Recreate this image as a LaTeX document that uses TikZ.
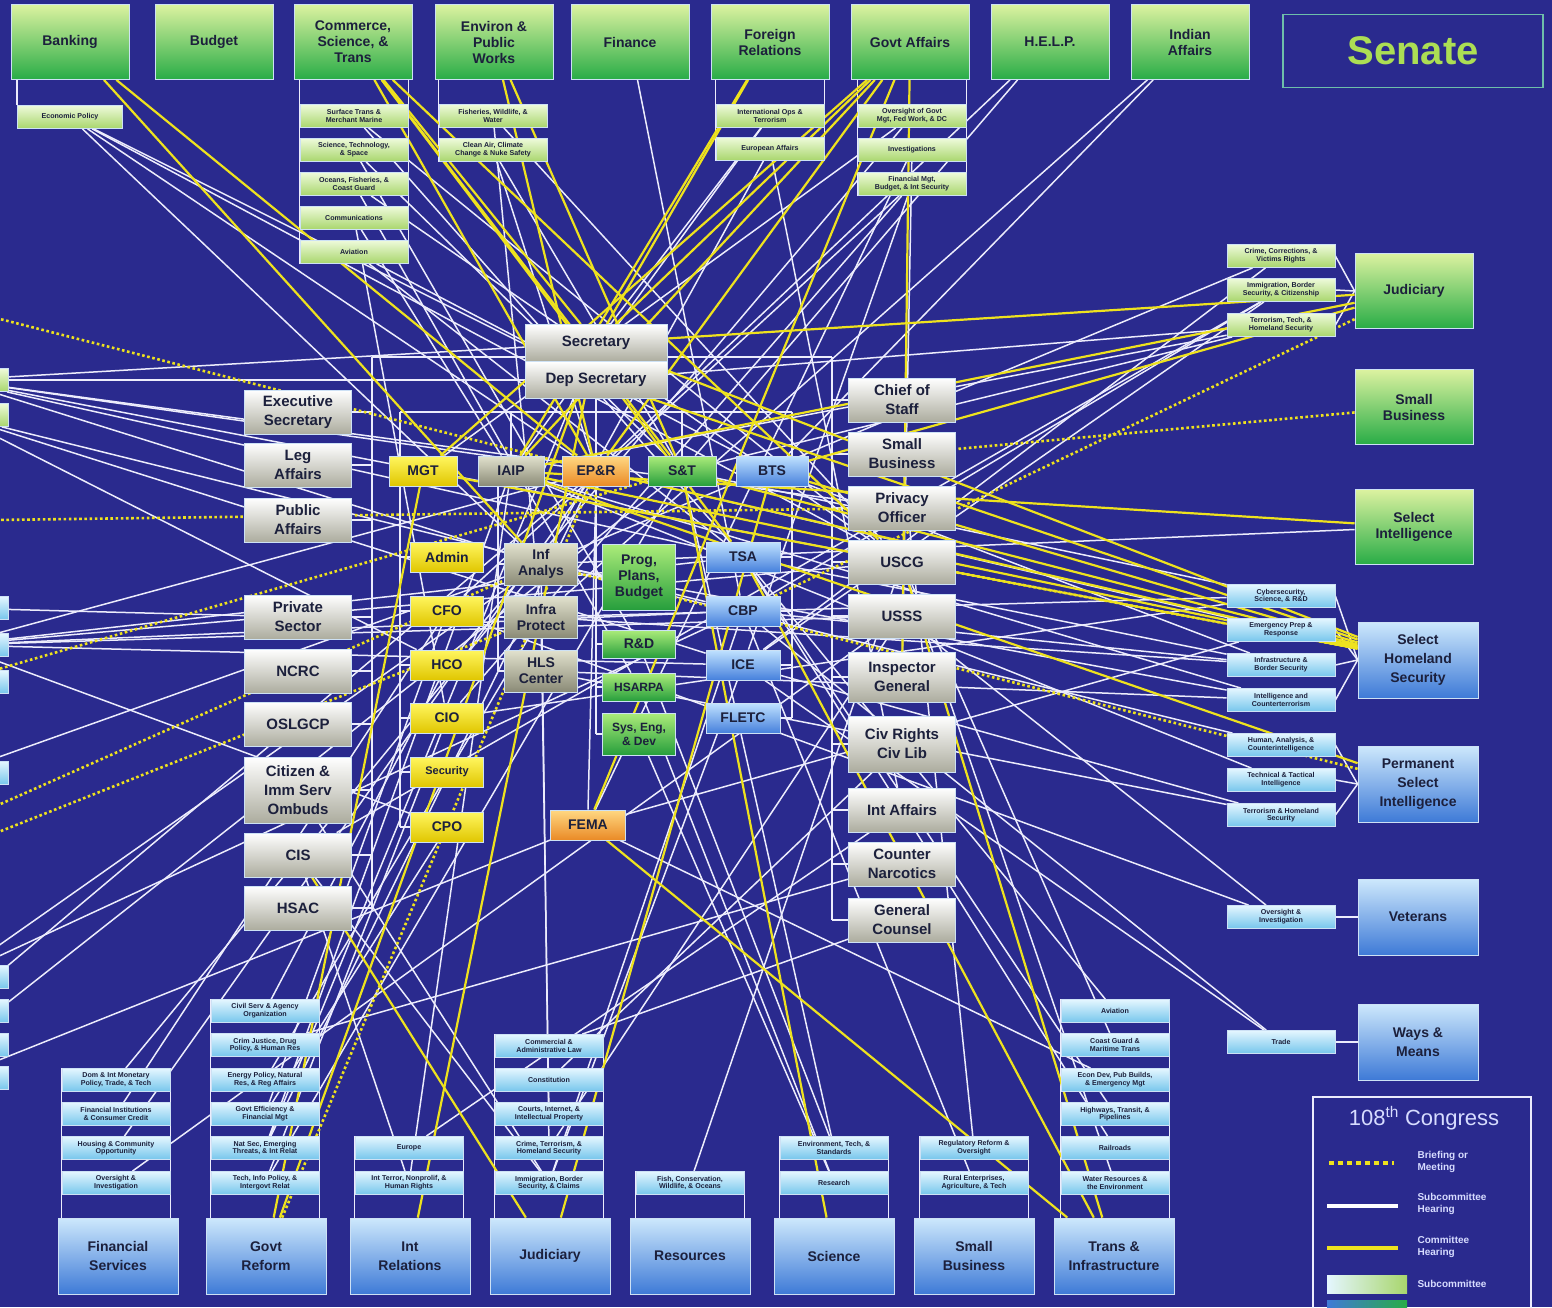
\documentclass[tikz,border=0pt]{standalone}
\usepackage{fontspec}
\setmainfont{Liberation Sans}
\definecolor{navy}{RGB}{42,42,142}
\definecolor{hearwhite}{RGB}{236,236,252}
\definecolor{hearyellow}{RGB}{238,226,30}
\definecolor{boxedge}{RGB}{205,225,245}
\definecolor{boxtext}{RGB}{28,32,60}
\definecolor{sengreenT}{RGB}{220,242,160}
\definecolor{sengreenB}{RGB}{40,172,70}
\definecolor{houseT}{RGB}{205,232,252}
\definecolor{houseB}{RGB}{62,122,215}
\definecolor{subgT}{RGB}{238,250,218}
\definecolor{subgB}{RGB}{168,214,108}
\definecolor{subbT}{RGB}{228,246,255}
\definecolor{subbB}{RGB}{118,198,236}
\definecolor{orgB}{RGB}{172,172,158}
\definecolor{mgtT}{RGB}{255,246,95}
\definecolor{mgtB}{RGB}{224,198,0}
\definecolor{iaipT}{RGB}{226,226,206}
\definecolor{iaipB}{RGB}{138,138,118}
\definecolor{eprT}{RGB}{255,216,130}
\definecolor{eprB}{RGB}{234,138,38}
\definecolor{sntT}{RGB}{172,236,122}
\definecolor{sntB}{RGB}{38,158,60}
\definecolor{btsT}{RGB}{192,226,255}
\definecolor{btsB}{RGB}{70,128,220}
\definecolor{senateedge}{RGB}{110,190,170}
\definecolor{senatetext}{RGB}{172,222,84}
\definecolor{legtext}{RGB}{215,220,255}
\pgfdeclarelayer{back}
\pgfdeclarelayer{lines}
\pgfsetlayers{back,lines,main}
\tikzset{every picture/.style={line width=0.75pt},
  box/.style={rectangle, align=center, inner sep=1pt, draw=boxedge, line width=0.8pt, text=boxtext},
  sencom/.style={box, top color=sengreenT, bottom color=sengreenB, minimum width=118, minimum height=75, font=\bfseries\fontsize{14}{16}\selectfont},
  housecom/.style={box, top color=houseT, bottom color=houseB, minimum width=120, minimum height=76, font=\bfseries\fontsize{14}{19}\selectfont},
  subg/.style={box, top color=subgT, bottom color=subgB, minimum width=108, minimum height=23, font=\bfseries\fontsize{7.1}{7.7}\selectfont},
  subb/.style={box, top color=subbT, bottom color=subbB, minimum width=108, minimum height=23, font=\bfseries\fontsize{7.1}{7.7}\selectfont},
  org/.style={box, top color=white, bottom color=orgB, minimum width=107, minimum height=44, font=\bfseries\fontsize{15}{19}\selectfont},
  dirbox/.style={box, minimum height=30, font=\bfseries\fontsize{14}{16}\selectfont},
  mgtc/.style={top color=mgtT, bottom color=mgtB},
  iaipc/.style={top color=iaipT, bottom color=iaipB},
  eprc/.style={top color=eprT, bottom color=eprB},
  sntc/.style={top color=sntT, bottom color=sntB},
  btsc/.style={top color=btsT, bottom color=btsB},
  subline/.style={draw=hearwhite, line width=1.5pt},
  comline/.style={draw=hearyellow, line width=2.2pt},
  brfline/.style={draw=hearyellow, line width=2.6pt, dash pattern=on 2.6pt off 2.6pt},
  tree/.style={draw=hearwhite, line width=1.5pt},
  legtxt/.style={text=legtext, font=\bfseries\fontsize{10}{12}\selectfont, align=left, anchor=west}
}
\begin{document}
\begin{tikzpicture}[x=1pt,y=1pt,yscale=-1,xscale=1]
\useasboundingbox (0,0) rectangle (1552,1307);
\begin{pgfonlayer}{back}
\fill[navy] (0,0) rectangle (1552,1307);
\end{pgfonlayer}

% Senate committees, top row
\node[sencom] (sbank) at (70,42) {Banking};
\node[sencom] (sbudg) at (214,42) {Budget};
\node[sencom] (scomm) at (353,42) {Commerce,\\Science, \&\\Trans};
\node[sencom] (senv) at (494,42) {Environ \&\\Public\\Works};
\node[sencom] (sfin) at (630,42) {Finance};
\node[sencom] (sfor) at (770,42) {Foreign\\Relations};
\node[sencom] (sgov) at (910,42) {Govt Affairs};
\node[sencom] (shelp) at (1050,42) {H.E.L.P.};
\node[sencom] (sind) at (1190,42) {Indian\\Affairs};
\node[draw=senateedge, line width=1.5pt, minimum width=260, minimum height=73, text=senatetext, font=\bfseries\fontsize{40}{44}\selectfont] (senate) at (1413,51) {Senate};

% Senate subcommittees, top
\node[subg, minimum width=105] (secon) at (70,117) {Economic Policy};
\node[subg] (cst1) at (354,116) {Surface Trans \&\\Merchant Marine};
\node[subg] (cst2) at (354,150) {Science, Technology,\\\& Space};
\node[subg] (cst3) at (354,184) {Oceans, Fisheries, \&\\Coast Guard};
\node[subg] (cst4) at (354,218) {Communications};
\node[subg] (cst5) at (354,252) {Aviation};
\node[subg] (env1) at (493,116) {Fisheries, Wildlife, \&\\Water};
\node[subg] (env2) at (493,150) {Clean Air, Climate\\Change \& Nuke Safety};
\node[subg] (for1) at (770,116) {International Ops \&\\Terrorism};
\node[subg] (for2) at (770,149) {European Affairs};
\node[subg] (gov1) at (912,116) {Oversight of Govt\\Mgt, Fed Work, \& DC};
\node[subg] (gov2) at (912,150) {Investigations};
\node[subg] (gov3) at (912,184) {Financial Mgt,\\Budget, \& Int Security};

% Right side committees
\node[sencom] (sjud) at (1414,291) {Judiciary};
\node[sencom] (ssmb) at (1414,407) {Small\\Business};
\node[sencom] (ssci) at (1414,527) {Select\\Intelligence};
\node[housecom] (hshs) at (1418,660) {Select\\Homeland\\Security};
\node[housecom] (hpsi) at (1418,784) {Permanent\\Select\\Intelligence};
\node[housecom] (hvet) at (1418,917) {Veterans};
\node[housecom] (hwm) at (1418,1042) {Ways \&\\Means};

% Right side subcommittees
\node[subg] (jud1) at (1281,256) {Crime, Corrections, \&\\Victims Rights};
\node[subg] (jud2) at (1281,290) {Immigration, Border\\Security, \& Citizenship};
\node[subg] (jud3) at (1281,325) {Terrorism, Tech, \&\\Homeland Security};
\node[subb] (shs1) at (1281,596) {Cybersecurity,\\Science, \& R\&D};
\node[subb] (shs2) at (1281,630) {Emergency Prep \&\\Response};
\node[subb] (shs3) at (1281,665) {Infrastructure \&\\Border Security};
\node[subb] (shs4) at (1281,700) {Intelligence and\\Counterterrorism};
\node[subb] (psi1) at (1281,745) {Human, Analysis, \&\\Counterintelligence};
\node[subb] (psi2) at (1281,780) {Technical \& Tactical\\Intelligence};
\node[subb] (psi3) at (1281,815) {Terrorism \& Homeland\\Security};
\node[subb] (vet1) at (1281,917) {Oversight \&\\Investigation};
\node[subb] (wm1) at (1281,1042) {Trade};

% House committees, bottom row
\node[housecom] (hfs) at (118,1256) {Financial\\Services};
\node[housecom] (hgr) at (266,1256) {Govt\\Reform};
\node[housecom] (hir) at (410,1256) {Int\\Relations};
\node[housecom] (hjud) at (550,1256) {Judiciary};
\node[housecom] (hres) at (690,1256) {Resources};
\node[housecom] (hsci) at (834,1256) {Science};
\node[housecom] (hsmb) at (974,1256) {Small\\Business};
\node[housecom] (hti) at (1114,1256) {Trans \&\\Infrastructure};

% House subcommittees, bottom
\node[subb] (fs1) at (116,1080) {Dom \& Int Monetary\\Policy, Trade, \& Tech};
\node[subb] (fs2) at (116,1114) {Financial Institutions\\\& Consumer Credit};
\node[subb] (fs3) at (116,1148) {Housing \& Community\\Opportunity};
\node[subb] (fs4) at (116,1183) {Oversight \&\\Investigation};
\node[subb] (gr1) at (265,1011) {Civil Serv \& Agency\\Organization};
\node[subb] (gr2) at (265,1045) {Crim Justice, Drug\\Policy, \& Human Res};
\node[subb] (gr3) at (265,1080) {Energy Policy, Natural\\Res, \& Reg Affairs};
\node[subb] (gr4) at (265,1114) {Govt Efficiency \&\\Financial Mgt};
\node[subb] (gr5) at (265,1148) {Nat Sec, Emerging\\Threats, \& Int Relat};
\node[subb] (gr6) at (265,1183) {Tech, Info Policy, \&\\Intergovt Relat};
\node[subb] (ir1) at (409,1148) {Europe};
\node[subb] (ir2) at (409,1183) {Int Terror, Nonprolif, \&\\Human Rights};
\node[subb] (jd1) at (549,1046) {Commercial \&\\Administrative Law};
\node[subb] (jd2) at (549,1080) {Constitution};
\node[subb] (jd3) at (549,1114) {Courts, Internet, \&\\Intellectual Property};
\node[subb] (jd4) at (549,1148) {Crime, Terrorism, \&\\Homeland Security};
\node[subb] (jd5) at (549,1183) {Immigration, Border\\Security, \& Claims};
\node[subb] (rs1) at (690,1183) {Fish, Conservation,\\Wildlife, \& Oceans};
\node[subb] (sc1) at (834,1148) {Environment, Tech, \&\\Standards};
\node[subb] (sc2) at (834,1183) {Research};
\node[subb] (sb1) at (974,1148) {Regulatory Reform \&\\Oversight};
\node[subb] (sb2) at (974,1183) {Rural Enterprises,\\Agriculture, \& Tech};
\node[subb] (ti1) at (1115,1011) {Aviation};
\node[subb] (ti2) at (1115,1045) {Coast Guard \&\\Maritime Trans};
\node[subb] (ti3) at (1115,1080) {Econ Dev, Pub Builds,\\\& Emergency Mgt};
\node[subb] (ti4) at (1115,1114) {Highways, Transit, \&\\Pipelines};
\node[subb] (ti5) at (1115,1148) {Railroads};
\node[subb] (ti6) at (1115,1183) {Water Resources \&\\the Environment};

% boxes cut by the left edge
\foreach \n/\y in {le1/380,le2/415} \node[subg] (\n) at (-46,\y) {};
\foreach \n/\y in {le3/608,le4/645,le5/682,le6/773,le7/977,le8/1011,le9/1045,le10/1078} \node[subb] (\n) at (-46,\y) {};
\coordinate (w1) at (-4,318);
\coordinate (w2) at (-4,520);
\coordinate (w4) at (-4,806);
\coordinate (w5) at (-4,833);

% Department
\node[org, minimum width=142, minimum height=37] (sec) at (596,343) {Secretary};
\node[org, minimum width=142, minimum height=37] (depsec) at (596,380) {Dep Secretary};
\node[org] (exs) at (298,412) {Executive\\Secretary};
\node[org] (leg) at (298,465) {Leg\\Affairs};
\node[org] (pub) at (298,520) {Public\\Affairs};
\node[org] (prv) at (298,617) {Private\\Sector};
\node[org] (ncrc) at (298,671) {NCRC};
\node[org] (osl) at (298,724) {OSLGCP};
\node[org, minimum height=66] (omb) at (298,790) {Citizen \&\\Imm Serv\\Ombuds};
\node[org] (cis) at (298,855) {CIS};
\node[org] (hsac) at (298,908) {HSAC};
\node[org] (cos) at (902,400) {Chief of\\Staff};
\node[org] (osb) at (902,454) {Small\\Business};
\node[org] (prvo) at (902,508) {Privacy\\Officer};
\node[org] (uscg) at (902,562) {USCG};
\node[org] (usss) at (902,616) {USSS};
\node[org, minimum height=50] (oig) at (902,677) {Inspector\\General};
\node[org, minimum height=56] (crcl) at (902,744) {Civ Rights\\Civ Lib};
\node[org] (oia) at (902,810) {Int Affairs};
\node[org] (cn) at (902,864) {Counter\\Narcotics};
\node[org] (ogc) at (902,920) {General\\Counsel};

% Directorates
\node[dirbox, mgtc, minimum width=68] (mgt) at (423,471) {MGT};
\node[dirbox, iaipc, minimum width=66] (iaip) at (511,471) {IAIP};
\node[dirbox, eprc, minimum width=67] (epr) at (596,471) {EP\&R};
\node[dirbox, sntc, minimum width=68] (snt) at (682,471) {S\&T};
\node[dirbox, btsc, minimum width=72] (bts) at (772,471) {BTS};
\node[dirbox, mgtc, minimum width=73] (adm) at (447,557) {Admin};
\node[dirbox, mgtc, minimum width=73] (cfo) at (447,611) {CFO};
\node[dirbox, mgtc, minimum width=73] (hco) at (447,665) {HCO};
\node[dirbox, mgtc, minimum width=73] (cio) at (447,718) {CIO};
\node[dirbox, mgtc, minimum width=73, font=\bfseries\fontsize{11}{13}\selectfont] (secu) at (447,772) {Security};
\node[dirbox, mgtc, minimum width=73] (cpo) at (447,827) {CPO};
\node[dirbox, iaipc, minimum width=73, minimum height=42] (ia) at (541,564) {Inf\\Analys};
\node[dirbox, iaipc, minimum width=73, minimum height=42] (ip) at (541,617) {Infra\\Protect};
\node[dirbox, iaipc, minimum width=73, minimum height=42] (hlsc) at (541,671) {HLS\\Center};
\node[dirbox, sntc, minimum width=73, minimum height=66] (ppb) at (639,577) {Prog,\\Plans,\\Budget};
\node[dirbox, sntc, minimum width=73, minimum height=28] (rnd) at (639,644) {R\&D};
\node[dirbox, sntc, minimum width=73, minimum height=28, font=\bfseries\fontsize{12}{14}\selectfont] (hsarpa) at (639,687) {HSARPA};
\node[dirbox, sntc, minimum width=73, minimum height=42, font=\bfseries\fontsize{12}{14}\selectfont] (sed) at (639,734) {Sys, Eng,\\\& Dev};
\node[dirbox, btsc, minimum width=74] (tsa) at (743,557) {TSA};
\node[dirbox, btsc, minimum width=74] (cbp) at (743,611) {CBP};
\node[dirbox, btsc, minimum width=74] (ice) at (743,665) {ICE};
\node[dirbox, btsc, minimum width=74] (fletc) at (743,718) {FLETC};
\node[dirbox, eprc, minimum width=75] (fema) at (588,825) {FEMA};

% Legend
\node[draw=hearwhite, line width=1.5pt, minimum width=218, minimum height=240, anchor=north west] (legend) at (1312,1096) {};
\node[text=legtext, font=\fontsize{22}{26}\selectfont] (legtitle) at (1424,1118) {108\textsuperscript{th} Congress};
\coordinate (lg1a) at (1329,1163);
\coordinate (lg1b) at (1394,1163);
\coordinate (lg2a) at (1327,1206);
\coordinate (lg2b) at (1398,1206);
\coordinate (lg3a) at (1327,1248);
\coordinate (lg3b) at (1398,1248);
\draw[brfline, line width=4pt, dash pattern=on 5pt off 4pt] (lg1a) -- (lg1b);
\draw[draw=white, line width=4pt] (lg2a) -- (lg2b);
\draw[draw=hearyellow, line width=4pt] (lg3a) -- (lg3b);
\node[legtxt] (leg1) at (1414,1162) {Briefing or\\Meeting};
\node[legtxt] (leg2) at (1414,1204) {Subcommittee\\Hearing};
\node[legtxt] (leg3) at (1414,1247) {Committee\\Hearing};
\node[left color=subbT, right color=subgB, minimum width=80, minimum height=18, inner sep=0] (legsub) at (1367,1284) {};
\node[legtxt] (leg4) at (1414,1284) {Subcommittee};
\node[left color=houseB, right color=sengreenB, minimum width=80, minimum height=14, inner sep=0, anchor=north] (legcom) at (1367,1300) {};

\begin{pgfonlayer}{lines}
% tree of the department
\coordinate (lbus) at (372,357);
\coordinate (rbus) at (832,357);
\coordinate (dbusL) at (400,412);
\coordinate (dbusR) at (792,412);
\draw[tree] (lbus) -- (rbus);
\draw[tree] (lbus) -- (lbus |- hsac);
\draw[tree] (rbus) -- (rbus |- ogc);
\foreach \n in {exs,leg,pub,prv,ncrc,osl,omb,cis,hsac} \draw[tree] (\n.east) -- (\n.east -| lbus);
\foreach \n in {cos,osb,prvo,uscg,usss,oig,crcl,oia,cn,ogc} \draw[tree] (\n.west) -- (\n.west -| rbus);
\draw[tree] (depsec.south) -- (depsec.south |- dbusL);
\draw[tree] (dbusL) -- (dbusR);
\foreach \n in {iaip,epr,snt} \draw[tree] (\n.north) -- (\n.north |- dbusL);
\draw[tree] (dbusL) -- (dbusL |- cpo);
\draw[tree] (dbusR) -- (dbusR |- fletc);
\foreach \n in {mgt,adm,cfo,hco,cio,secu,cpo} \draw[tree] (\n.west) -- (\n.west -| dbusL);
\foreach \n in {bts,tsa,cbp,ice,fletc} \draw[tree] (\n.east) -- (\n.east -| dbusR);
\coordinate (iaipv) at (498,486);
\draw[tree] (iaipv) -- (iaipv |- hlsc);
\foreach \n in {ia,ip,hlsc} \draw[tree] (\n.west) -- (\n.west -| iaipv);
\coordinate (sntv) at (596,486);
\draw[tree] (sntv) -- (sntv |- sed);
\foreach \n in {ppb,rnd,hsarpa,sed} \draw[tree] (\n.west) -- (\n.west -| sntv);
\draw[tree] (epr.south) -- (fema.north);

% committees to subcommittees
\draw[tree] (secon.north west) -- (secon.north west |- sbank.south);
\draw[tree] (cst5.south west) -- (cst5.south west |- scomm.south);
\draw[tree] (cst5.south east) -- (cst5.south east |- scomm.south);
\draw[tree] (env2.south west) -- (env2.south west |- senv.south);
\draw[tree] (for2.south west) -- (for2.south west |- sfor.south);
\draw[tree] (for2.south east) -- (for2.south east |- sfor.south);
\draw[tree] (gov3.south west) -- (gov3.south west |- sgov.south);
\draw[tree] (gov3.south east) -- (gov3.south east |- sgov.south);
\foreach \s/\c in {jud1/sjud,jud2/sjud,jud3/sjud,shs1/hshs,shs2/hshs,shs3/hshs,shs4/hshs,psi1/hpsi,psi2/hpsi,psi3/hpsi,vet1/hvet,wm1/hwm}
  \draw[tree] (\s.east) -- (\c.west);
\foreach \s/\c in {fs1/hfs,gr1/hgr,ir1/hir,jd1/hjud,rs1/hres,sc1/hsci,sb1/hsmb,ti1/hti} {
  \draw[tree] (\s.north west) -- (\s.north west |- \c.north);
  \draw[tree] (\s.north east) -- (\s.north east |- \c.north);
}

% subcommittee hearings
\foreach \a/\b in {secon/depsec,secon/ia,secon/epr,secon/uscg,cst1/tsa,cst1/uscg,cst2/snt,cst2/rnd,cst3/uscg,cst3/hsarpa,
  cst4/cio,cst4/iaip,cst5/tsa,cst5/bts,env1/uscg,env1/ip,env2/snt,env2/epr,for1/iaip,for1/sec,for2/ia,for2/oia,
  gov1/hco,gov1/mgt,gov2/fema,gov2/oig,gov3/cfo,gov3/cio,gov3/ice,sfin/cbp,shelp/snt,shelp/epr,sind/bts,sind/ip,
  jud1/ia,jud1/ice,jud2/cbp,jud2/ice,jud2/cis,jud3/iaip,jud3/snt,jud3/depsec,ssci/ia,
  shs1/snt,shs1/ip,shs1/cio,shs2/epr,shs2/fema,shs3/bts,shs3/tsa,shs3/cbp,shs3/ip,shs4/ia,shs4/iaip,shs4/hlsc,
  psi1/ia,psi2/iaip,psi3/hlsc,psi3/ice,vet1/usss,vet1/cfo,wm1/cbp,wm1/ice,
  fs1/ia,fs2/cfo,fs3/epr,fs4/usss,gr1/hco,gr2/cn,gr3/ip,gr4/cfo,gr4/cpo,gr5/iaip,gr5/sec,gr5/epr,gr6/cio,gr6/snt,
  ir1/oia,ir2/iaip,ir2/cis,jd1/ogc,jd2/crcl,jd3/ip,jd4/ia,jd4/usss,jd5/cbp,jd5/ice,jd5/cis,jd5/omb,rs1/uscg,
  sc1/snt,sc1/rnd,sc2/hsarpa,sc2/sed,sb1/osb,sb2/cbp,ti1/tsa,ti2/uscg,ti3/fema,ti4/tsa,ti5/tsa,ti6/uscg,
  le1/sec,le1/ia,le1/epr,le1/prvo,le1/uscg,le1/tsa,le1/depsec,le2/ice,le2/cbp,le2/hco,
  le3/prv,le4/cbp,le4/tsa,le4/uscg,le4/ice,le4/usss,le4/epr,le4/cpo,le6/ia,le7/ia,le7/cbp,le8/epr,le9/snt,le10/fema}
  \draw[subline] (\a) -- (\b);

% committee hearings
\foreach \a/\b in {sbank/ia,sbank/epr,scomm/tsa,scomm/uscg,scomm/snt,scomm/epr,scomm/sec,senv/epr,senv/snt,
  sfor/sec,sfor/iaip,sgov/sec,sgov/iaip,sgov/mgt,sgov/epr,sgov/fema,sgov/oig,sjud/sec,sjud/bts,sjud/iaip,ssci/iaip,
  hshs/sec,hshs/depsec,hshs/bts,hshs/epr,hshs/snt,hshs/iaip,hshs/mgt,hpsi/iaip,hgr/sec,hgr/mgt,hjud/bts,hjud/cis,
  hsci/snt,hti/tsa,hti/uscg,hti/fema,hir/sec}
  \draw[comline] (\a) -- (\b);

% briefings
\foreach \a/\b in {w1/epr,w2/prvo,le5/snt,w4/ia,w5/ip,ssmb/osb,hshs/uscg,hpsi/ia,hgr/epr,sjud/cbp}
  \draw[brfline] (\a) -- (\b);
\end{pgfonlayer}
\end{tikzpicture}
\end{document}
